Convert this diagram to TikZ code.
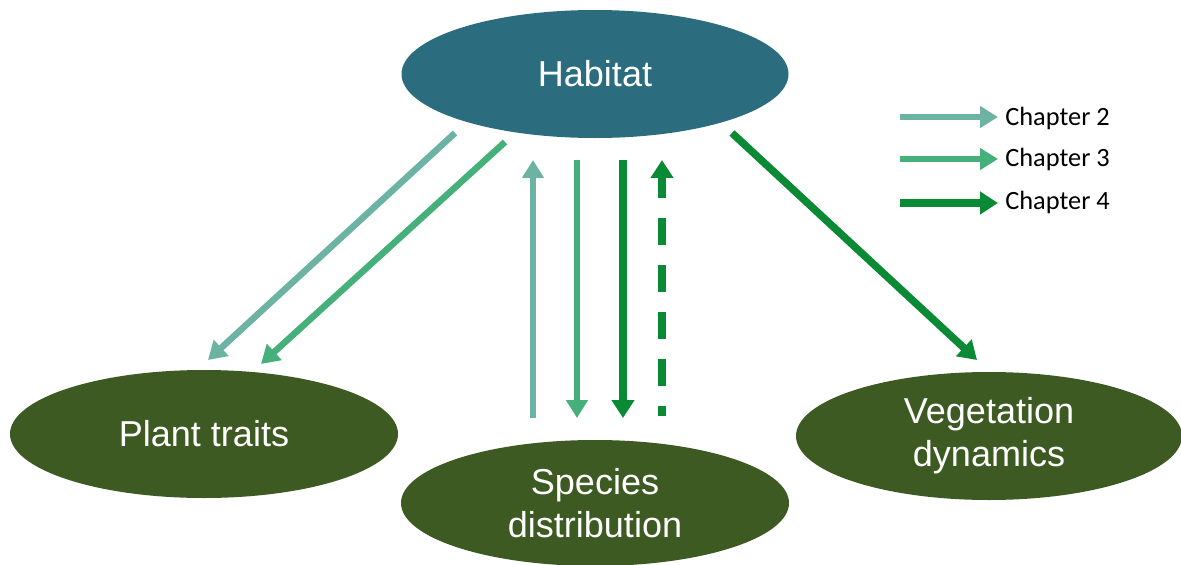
\documentclass[tikz,border=0pt]{standalone}
\usepackage{fontspec}
\setmainfont{Liberation Sans}
\newfontfamily\legendfont{Carlito}
\usetikzlibrary{arrows.meta,shapes.geometric}
\definecolor{habitatc}{HTML}{2B6C7E}
\definecolor{olivec}{HTML}{3D5A22}
\definecolor{chtwo}{HTML}{6DB3A3}
\definecolor{chthree}{HTML}{45B07A}
\definecolor{chfour}{HTML}{0B8A35}
\begin{document}
\begin{tikzpicture}[x=0.02cm,y=-0.02cm,
  blob/.style={ellipse, draw=none, fill=olivec, text=white, align=center,
    font=\fontsize{20.5}{24.5}\selectfont, inner sep=0pt},
  arr/.style={line width=0.13cm, -{Triangle[length=0.36cm,width=0.42cm]}},
  arrfour/.style={line width=0.15cm, -{Triangle[length=0.36cm,width=0.44cm]}},
  legtext/.style={font=\legendfont\fontsize{15}{18}\selectfont, anchor=west, inner sep=0pt}
]
\useasboundingbox (0,0) rectangle (1181,565);
% ellipses
\node[blob, fill=habitatc, minimum width=387*0.02cm, minimum height=128*0.02cm] (hab) at (595,74) {Habitat};
\node[blob, minimum width=388*0.02cm, minimum height=128*0.02cm] (plant) at (204,434) {Plant traits};
\node[blob, minimum width=388*0.02cm, minimum height=126*0.02cm] (spec) at (595,503) {Species\\distribution};
\node[blob, minimum width=386*0.02cm, minimum height=128*0.02cm] (veg) at (989,436) {Vegetation\\dynamics};
% arrow end points
\coordinate (a1s) at (455,133); \coordinate (a1e) at (208,360);
\coordinate (a2s) at (505,142); \coordinate (a2e) at (261,364);
\coordinate (v1s) at (533,418); \coordinate (v1e) at (533,160);
\coordinate (v2s) at (577,160); \coordinate (v2e) at (577,418);
\coordinate (v3s) at (623,160); \coordinate (v3e) at (623,418);
\coordinate (v4s) at (662,416); \coordinate (v4e) at (662,160);
\coordinate (d4s) at (732,133); \coordinate (d4e) at (977,360);
% arrows
\draw[arr, chtwo] (a1s) -- (a1e);
\draw[arr, chthree] (a2s) -- (a2e);
\draw[arr, chtwo] (v1s) -- (v1e);
\draw[arr, chthree] (v2s) -- (v2e);
\draw[arrfour, chfour] (v3s) -- (v3e);
\draw[arrfour, chfour, dash pattern=on 0.2cm off 0.4cm on 0.54cm off 0.4cm on 0.54cm off 0.4cm on 0.54cm off 0.4cm on 0.54cm off 0.4cm on 0.54cm off 0.4cm on 3cm] (v4s) -- (v4e);
\draw[arrfour, chfour] (d4s) -- (d4e);
% legend
\coordinate (l2s) at (900,117); \coordinate (l2e) at (998,117);
\coordinate (l3s) at (900,159); \coordinate (l3e) at (998,159);
\coordinate (l4s) at (900,203); \coordinate (l4e) at (998,203);
\draw[arr, chtwo] (l2s) -- (l2e);
\draw[arr, chthree] (l3s) -- (l3e);
\draw[arrfour, chfour] (l4s) -- (l4e);
\node[legtext] (t2) at (1005,118) {Chapter 2};
\node[legtext] (t3) at (1005,159) {Chapter 3};
\node[legtext] (t4) at (1005,202) {Chapter 4};
\end{tikzpicture}
\end{document}
